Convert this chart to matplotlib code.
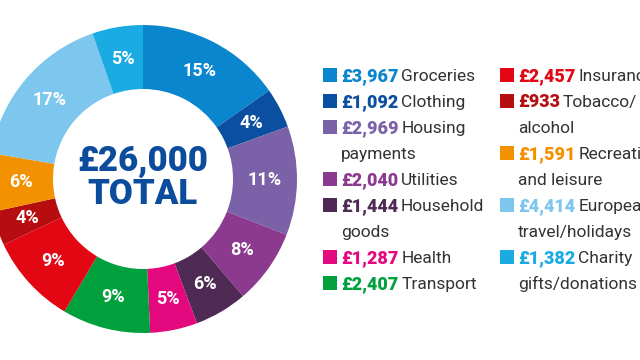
import matplotlib.pyplot as plt
from matplotlib.patches import Rectangle

# gasto anual por categoría (en £)
categorias = ["Groceries", "Clothing", "Housing\npayments", "Utilities", "Household\ngoods",
              "Health", "Transport", "Insurance", "Tobacco/\nalcohol", "Recreation\nand leisure",
              "European\ntravel/holidays", "Charity\ngifts/donations"]
importes = [3967, 1092, 2969, 2040, 1444, 1287, 2407, 2457, 933, 1591, 4414, 1382]
colores = ["#0a86cf", "#0b4fa0", "#7b62a8", "#8b3a8f", "#4f2a55", "#e4087e",
           "#00a03c", "#e30613", "#b50d10", "#f39200", "#7dc7ee", "#1aabe3"]
total_txt = "£26,000\nTOTAL"

plt.rcParams['font.family'] = ['Roboto', 'DejaVu Sans']

fig = plt.figure(figsize=(6.4, 3.6), dpi=100)
ax = fig.add_axes([0, 0, 1, 1])

# dona: centro y radios en pixeles (y hacia arriba)
cx, cy = 143, 360 - 179
r_ext, r_int = 154, 90
wedges, _, pcts = ax.pie(importes, colors=colores, startangle=90, counterclock=False,
                         radius=r_ext, center=(cx, cy), autopct='%.0f%%',
                         pctdistance=(r_ext + r_int) / 2 / r_ext,
                         wedgeprops=dict(width=r_ext - r_int, linewidth=0),
                         textprops=dict(color="white", fontsize=13, fontweight="bold"))

ax.text(cx, cy + 1, total_txt, ha="center", va="center", color="#0b4c9c",
        fontsize=25, fontweight="heavy", linespacing=1.0)

ax.set_xlim(0, 640)
ax.set_ylim(0, 360)
ax.set_aspect("equal")
ax.axis("off")

# leyenda manual en dos columnas
renderer = fig.canvas.get_renderer()
paso = 26
columnas = [(range(0, 7), 323), (range(7, 12), 500)]
for indices, x0 in columnas:
    fila = 0
    for i in indices:
        yc = 75 + fila * paso
        ax.add_patch(Rectangle((x0, 360 - yc - 7), 14, 14, color=colores[i], linewidth=0))
        xv = x0 + 18
        t = ax.text(xv, 360 - yc - 6, f"£{importes[i]:,}", color=colores[i],
                    fontsize=13, fontweight="heavy", va="baseline")
        ancho = t.get_window_extent(renderer).width
        lineas = categorias[i].split("\n")
        ax.text(xv + ancho + 3, 360 - yc - 6, lineas[0], color="#333333",
                fontsize=12.5, va="baseline")
        for extra in lineas[1:]:
            fila += 1
            yc = 75 + fila * paso
            ax.text(xv, 360 - yc - 6, extra, color="#333333", fontsize=12.5, va="baseline")
        fila += 1

fig.savefig("out.png", dpi=100)
